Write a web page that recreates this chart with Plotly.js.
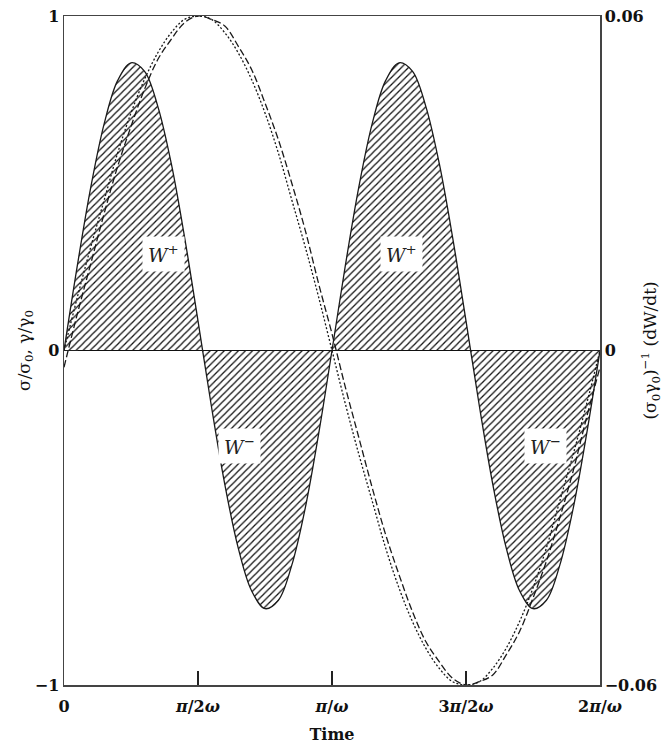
<!DOCTYPE html>
<html>
<head>
<meta charset="utf-8">
<script src="https://cdn.plot.ly/plotly-3.0.1.min.js"></script>
<style>html,body{margin:0;padding:0;background:#fff;}#chart{width:663px;height:747px;}</style>
</head>
<body>
<div id="chart"></div>
<script>
// time in units of pi/(2 omega)
const time = [0,0.1,0.2,0.3,0.4,0.5,0.6,0.7,0.8,0.9,1.0,1.1,1.2,1.3,1.4,1.5,1.6,1.7,1.8,1.9,2.0,
              2.1,2.2,2.3,2.4,2.5,2.6,2.7,2.8,2.9,3.0,3.1,3.2,3.3,3.4,3.5,3.6,3.7,3.8,3.9,4.0];
// sigma/sigma0 (dotted)
const sigma = [0,0.16,0.31,0.45,0.59,0.71,0.81,0.89,0.95,0.99,1.00,0.99,0.95,0.89,0.81,0.71,0.59,0.45,0.31,0.16,0,
               -0.16,-0.31,-0.45,-0.59,-0.71,-0.81,-0.89,-0.95,-0.99,-1.00,-0.99,-0.95,-0.89,-0.81,-0.71,-0.59,-0.45,-0.31,-0.16,0];
// gamma/gamma0 (dashed)
const gamma = [-0.05,0.11,0.26,0.41,0.55,0.67,0.78,0.87,0.93,0.98,1.00,0.99,0.97,0.91,0.84,0.74,0.63,0.50,0.36,0.20,0.05,
               -0.11,-0.26,-0.41,-0.55,-0.67,-0.78,-0.87,-0.93,-0.98,-1.00,-0.99,-0.97,-0.91,-0.84,-0.74,-0.63,-0.50,-0.36,-0.20,-0.05];
// (sigma0 gamma0)^-1 dW/dt (solid, hatched)
const power = [0,0.0153,0.0293,0.0407,0.0484,0.0516,0.0501,0.0438,0.0336,0.0203,0.0053,-0.0100,-0.0240,-0.0354,-0.0431,-0.0463,-0.0448,-0.0385,-0.0283,-0.0150,0,
               0.0153,0.0293,0.0407,0.0484,0.0516,0.0501,0.0438,0.0336,0.0203,0.0053,-0.0100,-0.0240,-0.0354,-0.0431,-0.0463,-0.0448,-0.0385,-0.0283,-0.0150,0];

const xTickVals = [0,1,2,3,4];
const xTickText = ['0','<i>π</i>/2<i>ω</i>','<i>π</i>/<i>ω</i>','3<i>π</i>/2<i>ω</i>','2<i>π</i>/<i>ω</i>'];
const yTickVals = [-1,0,1];
const yTickText = ['−1','0','1'];
const y2TickVals = [-0.06,0,0.06];
const y2TickText = ['−0.06','0','0.06'];

const labelText = ['<i>W</i><sup>+</sup>','<i>W</i><sup>−</sup>','<i>W</i><sup>+</sup>','<i>W</i><sup>−</sup>'];
const labelX = [0.74,1.31,2.52,3.59];
const labelY = [0.29,-0.285,0.29,-0.285];

const serif = 'DejaVu Serif, Liberation Serif, serif';
const ink = '#1a1a1a';

const traces = [
  {x: time, y: sigma, type: 'scatter', mode: 'lines', yaxis: 'y',
   line: {color: ink, width: 1.3, dash: '2px,2px', shape: 'spline'}, hoverinfo: 'skip', name: 'σ/σ0'},
  {x: time, y: gamma, type: 'scatter', mode: 'lines', yaxis: 'y',
   line: {color: ink, width: 1.3, dash: '7px,3px', shape: 'spline'}, hoverinfo: 'skip', name: 'γ/γ0'},
  {x: time, y: power, type: 'scatter', mode: 'lines', yaxis: 'y2',
   line: {color: ink, width: 1.3, shape: 'spline'},
   fill: 'tozeroy', fillcolor: 'rgba(0,0,0,0)',
   fillpattern: {shape: '/', fgcolor: '#111', bgcolor: 'rgba(0,0,0,0)', size: 5, solidity: 0.25},
   hoverinfo: 'skip', name: 'dW/dt'}
];

const tickFont = {family: serif, size: 16, color: '#111', weight: 'bold'};

const layout = {
  width: 663, height: 747,
  margin: {l: 64, r: 63, t: 16, b: 62},
  paper_bgcolor: '#fff', plot_bgcolor: '#fff',
  showlegend: false,
  xaxis: {
    range: [0, 4], tickvals: xTickVals, ticktext: xTickText,
    ticks: 'inside', ticklen: 14, tickwidth: 1.5, tickcolor: '#222',
    showline: true, linecolor: '#444', linewidth: 1.5, mirror: true,
    showgrid: false, zeroline: false, tickfont: tickFont, ticklabelstandoff: 6,
    title: {text: 'Time', font: {family: serif, size: 16, color: '#111', weight: 'bold'}, standoff: 14}
  },
  yaxis: {
    range: [-1, 1], tickvals: yTickVals, ticktext: yTickText,
    ticks: 'inside', ticklen: 14, tickwidth: 1.5, tickcolor: '#222',
    showline: true, linecolor: '#444', linewidth: 1.5,
    showgrid: false, zeroline: true, zerolinecolor: '#111', zerolinewidth: 1.3,
    tickfont: tickFont,
    title: {text: 'σ/σ<sub>0</sub>, γ/γ<sub>0</sub>', font: {family: serif, size: 17, color: '#111'}, standoff: 0}
  },
  yaxis2: {
    overlaying: 'y', side: 'right',
    range: [-0.06, 0.06], tickvals: y2TickVals, ticktext: y2TickText,
    ticks: 'inside', ticklen: 14, tickwidth: 1.5, tickcolor: '#222',
    showline: true, linecolor: '#444', linewidth: 1.5,
    showgrid: false, zeroline: false, tickfont: tickFont,
    title: {text: '(σ<sub>0</sub>γ<sub>0</sub>)<sup>−1</sup> (dW/dt)', font: {family: serif, size: 17, color: '#111'}, standoff: 0}
  },
  annotations: labelText.map((t, i) => ({
    text: t, x: labelX[i], y: labelY[i], xref: 'x', yref: 'y', showarrow: false,
    font: {family: serif, size: 19, color: '#222'}, bgcolor: '#fff', borderpad: 5
  }))
};

Plotly.newPlot('chart', traces, layout, {displayModeBar: false, staticPlot: true});
</script>
</body>
</html>
